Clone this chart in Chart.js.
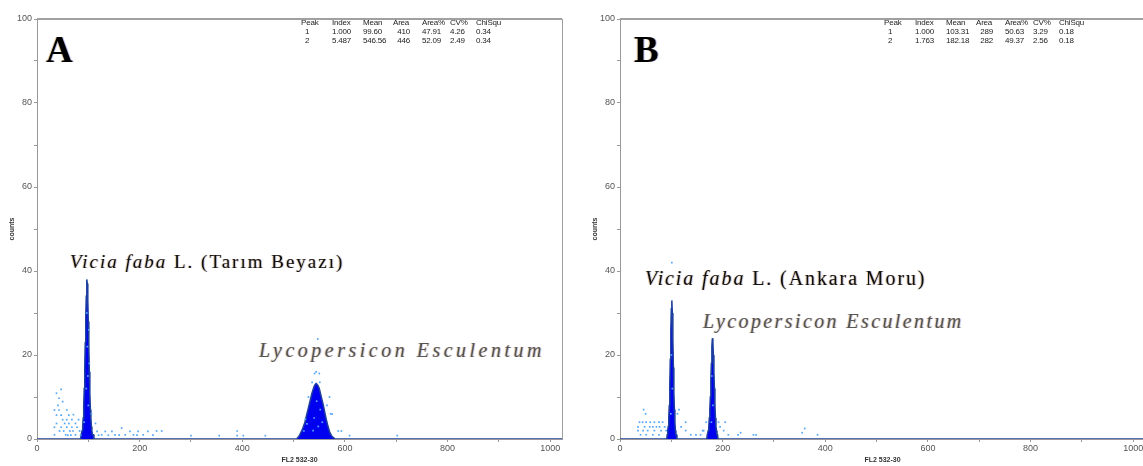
<!DOCTYPE html>
<html lang="tr">
<head>
  <meta charset="UTF-8">
  <title>DNA histograms</title>
  <script src="https://cdn.jsdelivr.net/npm/chart.js"></script>
  <style>
    body {
      margin: 0;
      width: 1143px;
      height: 466px;
      overflow: hidden;
      position: relative;
      background: #fff;
      font-family: 'Liberation Sans', Arial, sans-serif;
    }
    .panel {
      position: absolute;
      top: 0;
      width: 576px;
      height: 466px;
    }
    .panel canvas {
      position: absolute;
      left: 0;
      top: 0;
    }
    .letter {
      position: absolute;
      font-family: 'Liberation Serif', 'Times New Roman', serif;
      font-weight: bold;
      font-size: 37px;
      line-height: 1;
      color: #000;
      text-shadow: -1px 0 0 rgba(210, 140, 40, 0.45), 1px 0 0 rgba(40, 60, 200, 0.35);
    }
    .species {
      position: absolute;
      font-family: 'Liberation Serif', 'Times New Roman', serif;
      line-height: 1;
      white-space: nowrap;
      text-shadow: -1px 0 0 rgba(220, 150, 60, 0.45), 1px 0 0 rgba(60, 90, 200, 0.3);
    }
    .species.host { color: #111; font-size: 19px; letter-spacing: 2px; }
    .species.ref { color: #555; font-style: italic; font-size: 20px; letter-spacing: 3.5px; }
    .stat {
      position: absolute;
      font-family: 'Liberation Sans Narrow', 'Arial Narrow', 'Liberation Sans', sans-serif;
      font-size: 8px;
      letter-spacing: -0.2px;
      line-height: 1;
      color: #222;
      white-space: nowrap;
    }
  </style>
</head>
<body>
  <div class="panel" id="panelA" style="left:0">
    <canvas id="chartA" width="576" height="466"></canvas>
    <div class="letter" style="left:46px; top:31px">A</div>
    <div class="species host" style="left:70px; top:252px"><i>Vicia faba</i> L. (Tarım Beyazı)</div>
    <div class="species ref" style="left:259px; top:340px">Lycopersicon Esculentum</div>
  </div>
  <div class="panel" id="panelB" style="left:583px">
    <canvas id="chartB" width="576" height="466"></canvas>
    <div class="letter" style="left:51px; top:31px">B</div>
    <div class="species host" style="left:62px; top:268px; font-size:20px; letter-spacing:1.9px"><i>Vicia faba</i> L. (Ankara Moru)</div>
    <div class="species ref" style="left:120px; top:311px; letter-spacing:2.4px">Lycopersicon Esculentum</div>
  </div>

  <script>
    // channel range of the FL2 histogram
    const xMax = 1023;

    // peak statistics tables
    const statHeader = ['Peak', 'Index', 'Mean', 'Area', 'Area%', 'CV%', 'ChiSqu'];
    const statsA = [
      ['1', '1.000', '99.60', '410', '47.91', '4.26', '0.34'],
      ['2', '5.487', '546.56', '446', '52.09', '2.49', '0.34']
    ];
    const statsB = [
      ['1', '1.000', '103.31', '289', '50.63', '3.29', '0.18'],
      ['2', '1.763', '182.18', '282', '49.37', '2.56', '0.18']
    ];

    // histogram peaks: first channel, channel step, counts
    const peakA1Start = 86, peakA1Step = 1;
    const peakA1Counts = [1, 1, 2, 3, 5, 8, 12, 17, 23, 29, 34, 38, 37, 33, 28, 22, 16, 11, 7, 5, 3, 2, 1, 1, 1];
    const peakA2Start = 508, peakA2Step = 2;
    const peakA2Counts = [0.3, 0.6, 1, 1.5, 2, 2.6, 3.3, 4, 5, 6, 7, 8, 9, 10, 11, 11.8, 12.5, 13, 13.2, 13,
      12.6, 12, 11, 10, 9, 8, 6.8, 5.6, 4.5, 3.5, 2.6, 1.8, 1.2, 0.8, 0.5, 0.3, 0.1, 0];
    const peakB1Start = 92, peakB1Step = 1;
    const peakB1Counts = [1, 2, 3, 5, 8, 13, 19, 26, 31, 33, 30, 24, 17, 11, 7, 4, 2, 1, 1];
    const peakB2Start = 170, peakB2Step = 1;
    const peakB2Counts = [1, 1, 2, 3, 5, 7, 10, 14, 18, 22, 24, 23, 20, 16, 12, 8, 5, 3, 2, 1, 1];

    // raw (unsmoothed) channel counts shown as dots: [channel, count]
    const dotsA = [
      [47, 11.8], [38, 10.9], [43, 9.7], [50, 8.9], [41, 8], [34, 6.9], [43, 6.9], [58, 6.9],
      [38, 5.7], [47, 5.7], [62, 5.7], [71, 5.8], [50, 4.6], [58, 4.6], [68, 4.6], [81, 4.6],
      [38, 3.7], [54, 3.7], [62, 3.7], [75, 3.7], [114, 3.7], [34, 2.8], [47, 2.8], [58, 2.8],
      [68, 2.8], [78, 2.8], [117, 1.8], [133, 1.8], [146, 1.8], [165, 2.6], [181, 1.8], [197, 1.8],
      [216, 1.8], [34, 1], [56, 1], [75, 1], [126, 1], [152, 1], [172, 1], [188, 1], [207, 1],
      [44, 1.9], [52, 1.9], [64, 1.9], [70, 1.9], [83, 1.9], [60, 0.9], [66, 0.9], [85, 0.9],
      [120, 0.9], [139, 0.9], [160, 0.9], [195, 0.9], [226, 0.9],
      [233, 1.9], [243, 1.9], [300, 0.8], [355, 0.8], [390, 1.9], [390, 0.8], [402, 0.8], [445, 0.8],
      [97, 30], [98, 22], [99, 15], [100, 8], [101, 26], [96, 12], [102, 18], [92, 4], [106, 6],
      [547, 23.8], [544, 16], [541, 15.6], [550, 15.6], [536, 13.5], [551, 13.5], [529, 10], [570, 10],
      [523, 4.7], [575, 5.9], [526, 3.6], [520, 1.9], [565, 8], [572, 6], [587, 1.9], [593, 1.9],
      [609, 0.8], [702, 0.8], [540, 5], [545, 9], [548, 3], [552, 7], [556, 4], [538, 2]
    ];
    const dotsB = [
      [46, 7], [50, 6], [38, 4], [44, 4], [51, 4], [59, 4], [67, 4], [76, 4], [83, 4],
      [35, 2.9], [48, 2.9], [58, 2.9], [64, 2.9], [71, 2.9], [77, 2.9], [87, 2.9],
      [35, 2], [45, 2], [54, 2], [67, 2], [80, 2], [90, 2], [40, 1], [51, 1], [64, 1], [76, 1],
      [112, 6], [115, 7], [128, 4], [119, 2.9], [128, 2], [138, 1], [148, 1], [161, 2], [157, 1],
      [168, 4], [163, 2], [192, 4], [195, 2.9], [205, 4], [202, 2], [211, 1], [230, 1],
      [235, 1.5], [260, 1], [265, 1], [355, 1.5], [360, 2.5], [385, 1],
      [101, 42], [100, 20], [102, 12], [99, 6], [179, 15], [181, 8], [178, 4]
    ];

    function histPoints(peaks) {
      const pts = [{ x: 0, y: 0 }];
      peaks.forEach(p => {
        pts.push({ x: p.start - p.step, y: 0 });
        p.counts.forEach((c, i) => pts.push({ x: p.start + i * p.step, y: c }));
        pts.push({ x: p.start + p.counts.length * p.step, y: 0 });
      });
      pts.push({ x: xMax, y: 0 });
      return pts;
    }

    // grey box round the plot area (top and right edges)
    const framePlugin = {
      id: 'frame',
      afterDraw(chart) {
        const { ctx, chartArea: a } = chart;
        ctx.save();
        ctx.strokeStyle = '#a0a0a0';
        ctx.lineWidth = 2;
        ctx.beginPath();
        ctx.moveTo(a.left, a.top);
        ctx.lineTo(a.right, a.top);
        ctx.stroke();
        ctx.lineWidth = 1;
        ctx.beginPath();
        ctx.moveTo(a.right + 0.5, a.top);
        ctx.lineTo(a.right + 0.5, a.bottom);
        ctx.stroke();
        ctx.restore();
      }
    };

    function createHistogram(canvasId, peaks, dots) {
      const ctx = document.getElementById(canvasId).getContext('2d');
      return new Chart(ctx, {
        type: 'scatter',
        data: {
          datasets: [{
            data: dots.map(d => ({ x: d[0], y: d[1] })),
            pointStyle: 'rect',
            pointRadius: 1.2,
            pointBorderWidth: 0,
            backgroundColor: '#55a6f5'
          }, {
            type: 'line',
            data: histPoints(peaks),
            showLine: true,
            fill: 'origin',
            backgroundColor: '#0000f0',
            borderColor: '#1d3f9e',
            borderWidth: 1.5,
            pointRadius: 0,
            tension: 0
          }]
        },
        options: {
          responsive: false,
          animation: false,
          layout: { padding: { top: 19, right: 14, left: 0, bottom: 0 } },
          plugins: { legend: { display: false }, tooltip: { enabled: false } },
          scales: {
            x: {
              type: 'linear',
              min: 0,
              max: xMax,
              ticks: {
                stepSize: 100,
                includeBounds: false,
                autoSkip: false,
                maxRotation: 0,
                padding: 1,
                color: '#555',
                font: { size: 9 },
                callback: v => v % 200 === 0 ? v : ''
              },
              grid: { drawOnChartArea: false, tickLength: 3, color: '#999' },
              border: { color: '#999' },
              title: { display: true, text: 'FL2 532-30', color: '#333', font: { size: 7, weight: 'bold' }, padding: { top: 0, bottom: 2 } },
              afterFit: s => { s.height = 27; }
            },
            y: {
              min: 0,
              max: 100,
              ticks: {
                stepSize: 10,
                padding: 2,
                color: '#555',
                font: { size: 9 },
                callback: v => v % 20 === 0 ? v : ''
              },
              grid: { drawOnChartArea: false, tickLength: 3, color: '#999' },
              border: { color: '#999' },
              title: { display: true, text: 'counts', color: '#333', font: { size: 7, weight: 'bold' }, padding: { top: 8, bottom: 0 } },
              afterFit: s => { s.width = 37; }
            }
          }
        },
        plugins: [framePlugin]
      });
    }

    // stats table drawn as text above the plot
    const statCols = [0, 31, 62, 92, 121, 149, 175];
    const statRowsTop = [19, 28, 37];
    function addStats(panelId, left, rows) {
      const panel = document.getElementById(panelId);
      [statHeader].concat(rows).forEach((row, r) => {
        row.forEach((txt, c) => {
          const el = document.createElement('div');
          el.className = 'stat';
          el.textContent = txt;
          el.style.top = statRowsTop[r] + 'px';
          if (r > 0 && c === 0) {
            el.style.left = (left + statCols[c] + 4) + 'px';
          } else if (r > 0 && c === 3) {
            el.style.left = (left + statCols[c]) + 'px';
            el.style.width = '17px';
            el.style.textAlign = 'right';
          } else {
            el.style.left = (left + statCols[c]) + 'px';
          }
          panel.appendChild(el);
        });
      });
    }

    createHistogram('chartA', [
      { start: peakA1Start, step: peakA1Step, counts: peakA1Counts },
      { start: peakA2Start, step: peakA2Step, counts: peakA2Counts }
    ], dotsA);
    createHistogram('chartB', [
      { start: peakB1Start, step: peakB1Step, counts: peakB1Counts },
      { start: peakB2Start, step: peakB2Step, counts: peakB2Counts }
    ], dotsB);
    addStats('panelA', 301, statsA);
    addStats('panelB', 301, statsB);
  </script>
</body>
</html>
